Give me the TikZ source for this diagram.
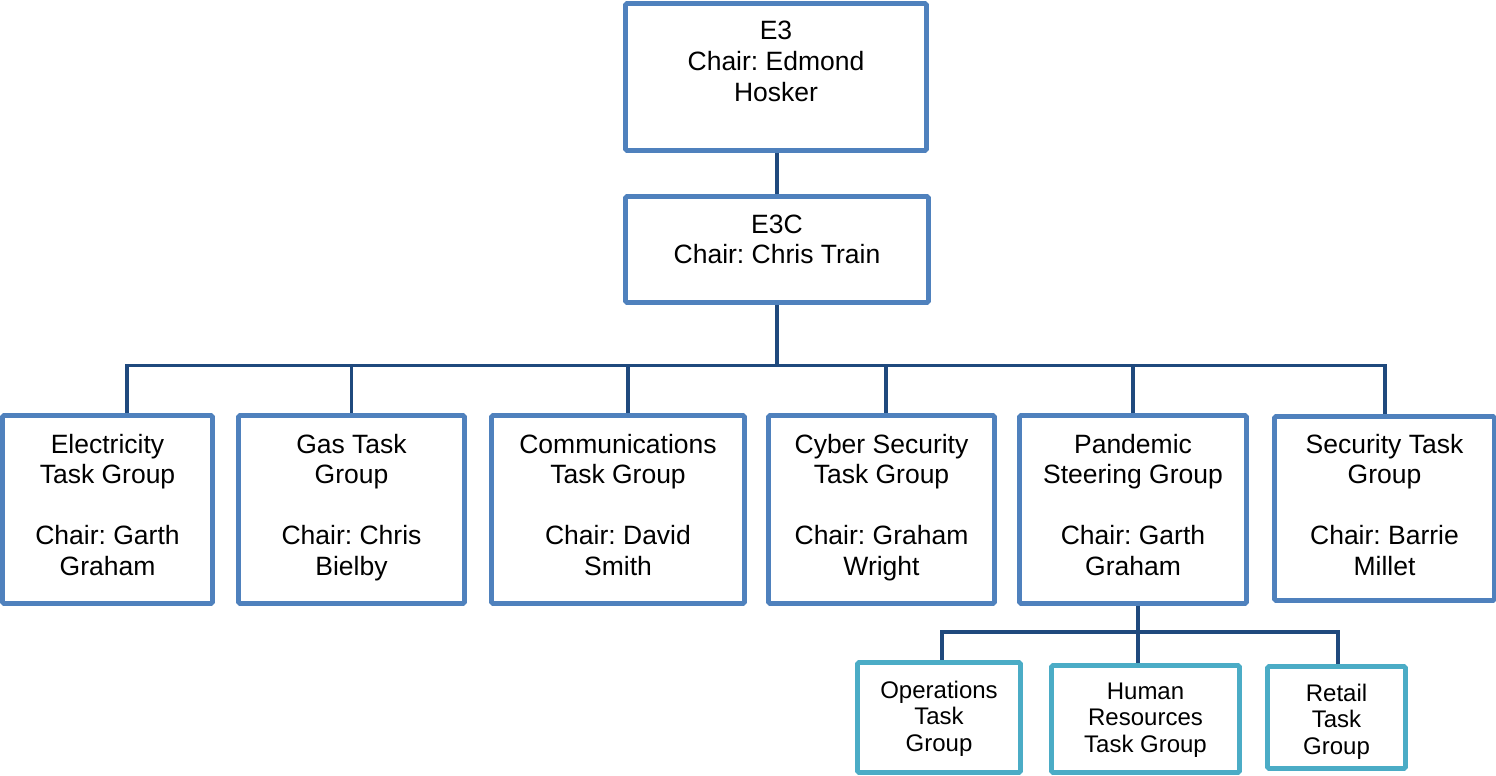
\documentclass[tikz,border=0pt]{standalone}
\usepackage{fontspec}
\setmainfont{Liberation Sans}
\frenchspacing
\definecolor{boxblue}{HTML}{4F81BD}
\definecolor{subblue}{HTML}{4BACC6}
\definecolor{linkblue}{HTML}{1F497D}
\newcommand{\maintext}[2]{\makebox[0pt]{\raisebox{#1}[0pt][0pt]{\parbox[t]{300pt}{\centering\frenchspacing\fontsize{26.5}{30.6}\selectfont #2}}}}
\newcommand{\subtext}[2]{\makebox[0pt]{\raisebox{#1}[0pt][0pt]{\parbox[t]{300pt}{\centering\frenchspacing\fontsize{24}{26.8}\selectfont #2}}}}
\begin{document}
\begin{tikzpicture}[x=1pt,y=-1pt,
  mainbox/.style={draw=boxblue,line width=4.7pt,rounded corners=1.5pt,fill=white,inner sep=0pt},
  subbox/.style={draw=subblue,line width=4.7pt,rounded corners=1.5pt,fill=white,inner sep=0pt},
  conn/.style={draw=linkblue,line width=3.3pt,line join=miter}]
\useasboundingbox (0,0) rectangle (1496,776);
% top
\node[mainbox,minimum width=301pt,minimum height=147pt] (e3) at (776,77)
  {\maintext{37pt}{E3\\Chair: Edmond\\Hosker}};
\node[mainbox,minimum width=303pt,minimum height=106pt] (e3c) at (777,249.5)
  {\maintext{16.5pt}{E3C\\Chair: Chris Train}};
% row
\node[mainbox,minimum width=210pt,minimum height=188pt] (elec) at (107.5,509.5)
  {\maintext{56.5pt}{Electricity\\Task Group\\[30.6pt]Chair: Garth\\Graham}};
\node[mainbox,minimum width=226pt,minimum height=188pt] (gas) at (351.5,509.5)
  {\maintext{56.5pt}{Gas Task\\Group\\[30.6pt]Chair: Chris\\Bielby}};
\node[mainbox,minimum width=253pt,minimum height=188pt] (comm) at (618,509.5)
  {\maintext{56.5pt}{Communications\\Task Group\\[30.6pt]Chair: David\\Smith}};
\node[mainbox,minimum width=226pt,minimum height=188pt] (cyber) at (881.5,509.5)
  {\maintext{56.5pt}{Cyber Security\\Task Group\\[30.6pt]Chair: Graham\\Wright}};
\node[mainbox,minimum width=227pt,minimum height=188pt] (pand) at (1133,509.5)
  {\maintext{56.5pt}{Pandemic\\Steering Group\\[30.6pt]Chair: Garth\\Graham}};
\node[mainbox,minimum width=220pt,minimum height=184pt] (sec) at (1384.5,508.5)
  {\maintext{55.5pt}{Security Task\\Group\\[30.6pt]Chair: Barrie\\Millet}};
% sub row
\node[subbox,minimum width=163pt,minimum height=110pt] (ops) at (939,717.5)
  {\subtext{19.5pt}{Operations\\Task\\Group}};
\node[subbox,minimum width=188pt,minimum height=107pt] (hr) at (1145.5,719)
  {\subtext{20pt}{Human\\Resources\\Task Group}};
\node[subbox,minimum width=138pt,minimum height=102pt] (ret) at (1336.5,717.5)
  {\subtext{16.5pt}{Retail\\Task\\Group}};
% connectors
\coordinate (bus) at (777,365.7);
\coordinate (subbus) at (1138,632);
\draw[conn] (e3c.north |- e3.south) -- (e3c.north);
\draw[conn] (e3c.south) -- (bus);
\draw[conn] (bus) -| ([xshift=19.5pt]elec.north);
\draw[conn] (bus) -| ([xshift=0.2pt]gas.north);
\draw[conn] (bus) -| ([xshift=10pt]comm.north);
\draw[conn] (bus) -| ([xshift=4.5pt]cyber.north);
\draw[conn] (bus) -| (pand.north);
\draw[conn] (bus) -| ([xshift=0.5pt]sec.north);
\draw[conn] ([xshift=5pt]pand.south) -- (subbus);
\draw[conn] (subbus) -| ([xshift=3pt]ops.north);
\draw[conn] (subbus) -- ([xshift=-7.5pt]hr.north);
\draw[conn] (subbus) -| ([xshift=1.5pt]ret.north);
\end{tikzpicture}
\end{document}
